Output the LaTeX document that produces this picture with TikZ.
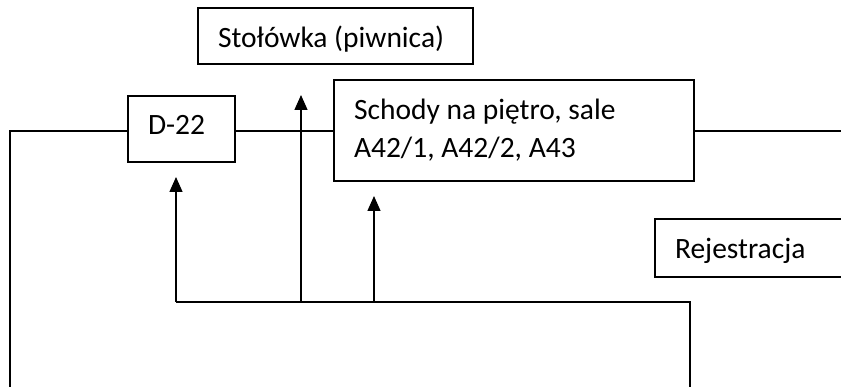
\documentclass[tikz,border=0pt]{standalone}
\usepackage{fontspec}
\setmainfont{Carlito}
\usetikzlibrary{arrows.meta}
\begin{document}
\begin{tikzpicture}[x=1pt,y=-1pt,
  box/.style={draw,line width=1.3pt,rectangle,anchor=north west,inner ysep=0pt,outer sep=0pt,inner xsep=20pt,
    align=left,font=\fontsize{29.5}{38}\selectfont,text height=22pt,text depth=0pt,
    execute at begin node={\spaceskip=0pt\xspaceskip=0pt}},
  conn/.style={line width=1.4pt},
  arr/.style={conn,-{Triangle[width=13pt,length=15pt]}}]
\clip (0,0) rectangle (841,387);
\node[box,minimum width=275pt,minimum height=56pt,text width=235pt,text height=24pt] (stol) at (198,8) {Stołówka (piwnica)};
\node[box,minimum width=107pt,minimum height=66pt,text width=67pt,text height=21pt,text depth=9pt] (d22) at (128,96) {D-22};
\node[box,minimum width=360pt,minimum height=101pt,text width=320pt,text height=21pt,text depth=42pt] (sch) at (334,80) {Schody na piętro, sale\\A42/1, A42/2, A43};
\node[box,minimum width=220pt,minimum height=58pt,text width=180pt] (rej) at (655,219) {Rejestracja};
% main corridor
\coordinate (hl) at (10,131);
\coordinate (hr) at (850,131);
\coordinate (lb) at (10,395);
\draw[conn] (lb) -- (hl) -- (hl -| d22.west);
\draw[conn] (hl -| d22.east) -- (hl -| sch.west);
\draw[conn] (hl -| sch.east) -- (hr);
% lower corridor
\coordinate (b1) at (176,302);
\coordinate (b2) at (301,302);
\coordinate (b3) at (374,302);
\coordinate (b4) at (690,302);
\coordinate (rb) at (690,395);
\draw[conn] (b1) -- (b4) -- (rb);
\coordinate (t1) at (176,177);
\coordinate (t2) at (301,95);
\coordinate (t3) at (374,196);
\draw[arr] (b1) -- (t1);
\draw[arr] (b2) -- (t2);
\draw[arr] (b3) -- (t3);
\end{tikzpicture}
\end{document}
